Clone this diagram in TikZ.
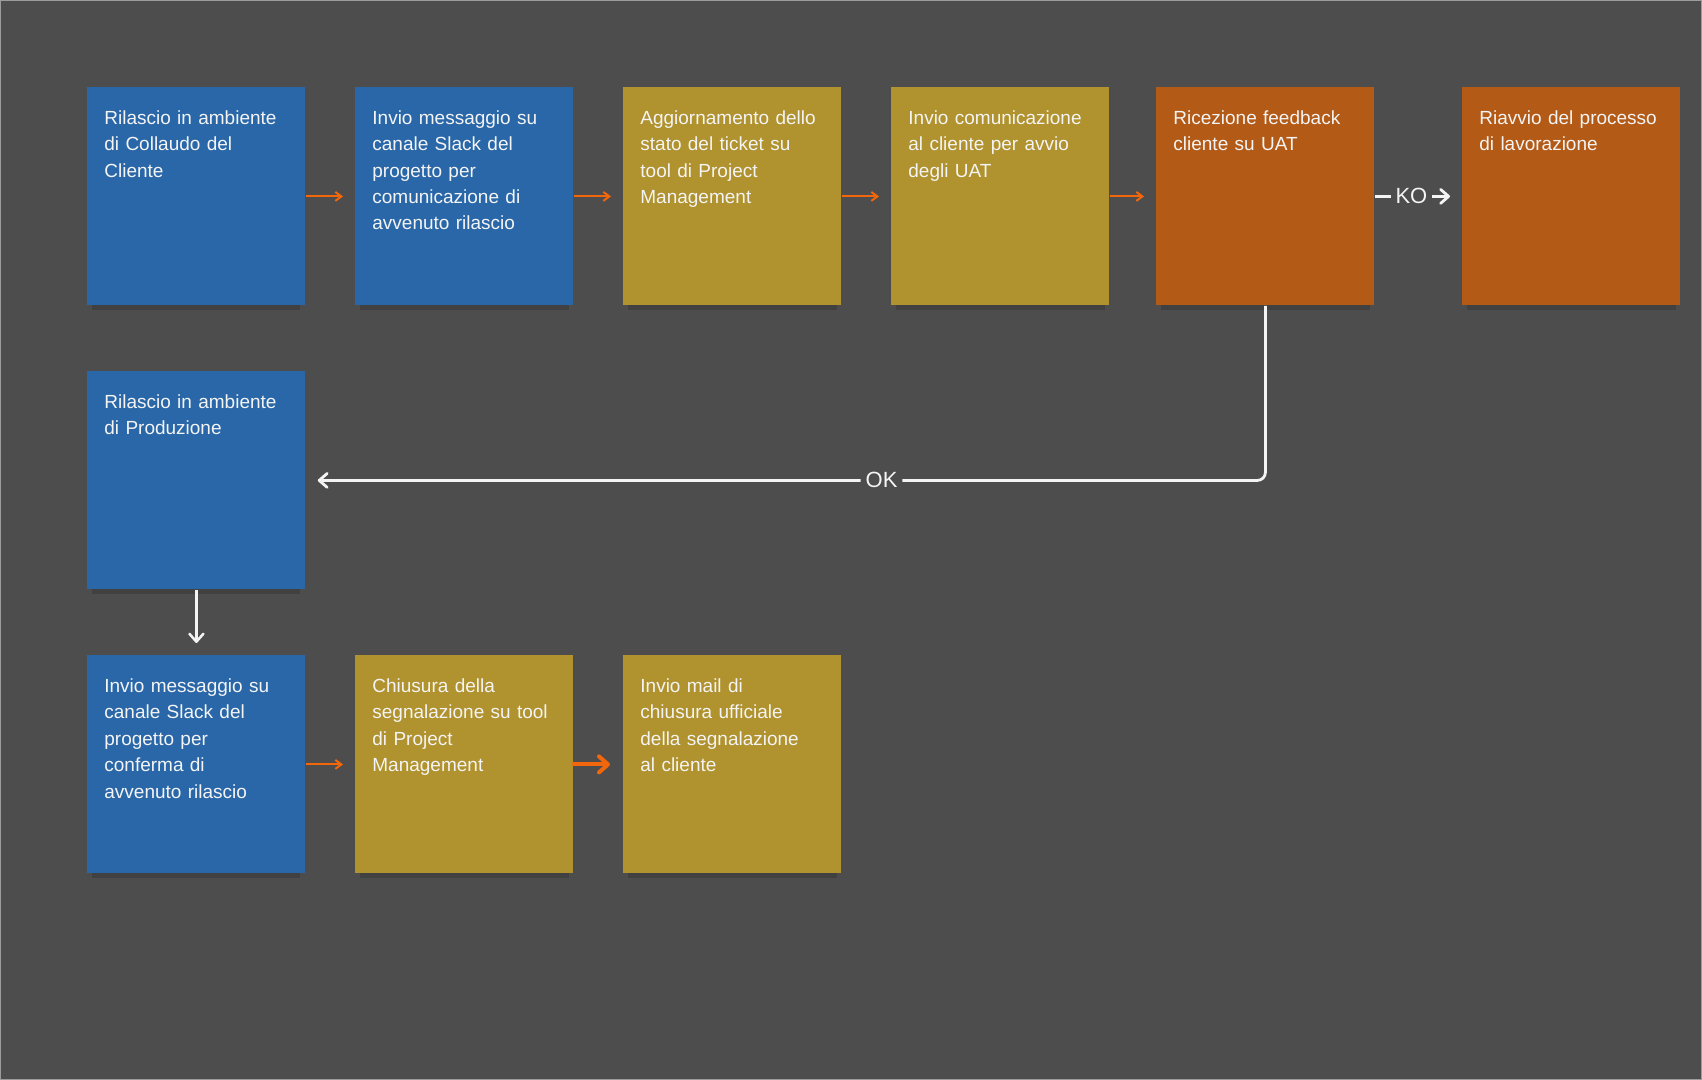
\documentclass[tikz,border=0pt]{standalone}
\usepackage{fontspec}
\setmainfont{Liberation Sans}
\usetikzlibrary{arrows.meta,shadows}
\definecolor{bgc}{HTML}{4D4D4D}
\definecolor{edgec}{HTML}{9C9C9C}
\definecolor{bluec}{HTML}{2967A8}
\definecolor{goldc}{HTML}{B0922E}
\definecolor{rustc}{HTML}{B35A17}
\definecolor{flowc}{HTML}{F2660C}
\definecolor{inkc}{HTML}{F4F4F4}
\tikzset{
  card/.style={anchor=north west, rectangle, minimum width=109pt, minimum height=109pt,
    text width=92pt, align=left, inner xsep=8.5pt, inner ysep=9.25pt,
    text height=9.25pt, text depth=81.25pt, text=inkc,
    font=\fontsize{9.5}{13.2}\selectfont,
    drop shadow={shadow xshift=0pt, shadow yshift=-5pt, shadow scale=0.955, fill=black, opacity=0.15}},
  bluecard/.style={card, fill=bluec},
  goldcard/.style={card, fill=goldc},
  rustcard/.style={card, fill=rustc},
  flow/.style={draw=flowc, line width=1pt, -{Straight Barb[length=3pt,width=4.5pt]}, shorten >=6pt},
  boldflow/.style={draw=flowc, line width=2pt, line cap=round, -{Straight Barb[length=4.5pt,width=8pt,round]}, shorten >=6.5pt},
  answer/.style={draw=inkc, line width=1.4pt, -{Straight Barb[length=4pt,width=7pt,round]}, shorten >=6pt},
  tag/.style={fill=bgc, text=inkc, inner sep=2.5pt, font=\fontsize{11}{13}\selectfont},
}
\begin{document}
\begin{tikzpicture}[x=0.5pt, y=-0.5pt]
\useasboundingbox (0,0) rectangle (1702,1080);
\fill[bgc] (0,0) rectangle (1702,1080);
\draw[edgec, line width=0.5pt] (0.5,0.5) rectangle (1701.5,1079.5);
% prima riga
\node[bluecard] (deploycoll) at (87,87) {Rilascio in ambiente\\di Collaudo del\\Cliente};
\node[bluecard] (slackrel) at (355,87) {Invio messaggio su\\canale Slack del\\progetto per\\comunicazione di\\avvenuto rilascio};
\node[goldcard] (ticketupd) at (623,87) {Aggiornamento dello\\stato del ticket su\\tool di Project\\Management};
\node[goldcard] (uatmail) at (891,87) {Invio comunicazione\\al cliente per avvio\\degli UAT};
\node[rustcard] (feedback) at (1156,87) {Ricezione feedback\\cliente su UAT};
\node[rustcard] (restart) at (1462,87) {Riavvio del processo\\di lavorazione};
% seconda riga
\node[bluecard] (deployprod) at (87,371) {Rilascio in ambiente\\di Produzione};
% terza riga
\node[bluecard] (slackconf) at (87,655) {Invio messaggio su\\canale Slack del\\progetto per\\conferma di\\avvenuto rilascio};
\node[goldcard] (ticketclose) at (355,655) {Chiusura della\\segnalazione su tool\\di Project\\Management};
\node[goldcard] (closemail) at (623,655) {Invio mail di\\chiusura ufficiale\\della segnalazione\\al cliente};
% connettori
\draw[flow] (deploycoll.east) -- (slackrel.west);
\draw[flow] (slackrel.east) -- (ticketupd.west);
\draw[flow] (ticketupd.east) -- (uatmail.west);
\draw[flow] (uatmail.east) -- (feedback.west);
\draw[answer] (feedback.east) -- node[tag, pos=0.42] {KO} (restart.west);
\draw[answer, rounded corners=4pt] (feedback.south) |- node[tag, pos=0.7] {OK} (deployprod.east);
\draw[answer, line width=1.25pt] (deployprod.south) -- (slackconf.north);
\draw[flow] (slackconf.east) -- (ticketclose.west);
\draw[boldflow] (ticketclose.east) -- (closemail.west);
\end{tikzpicture}
\end{document}
